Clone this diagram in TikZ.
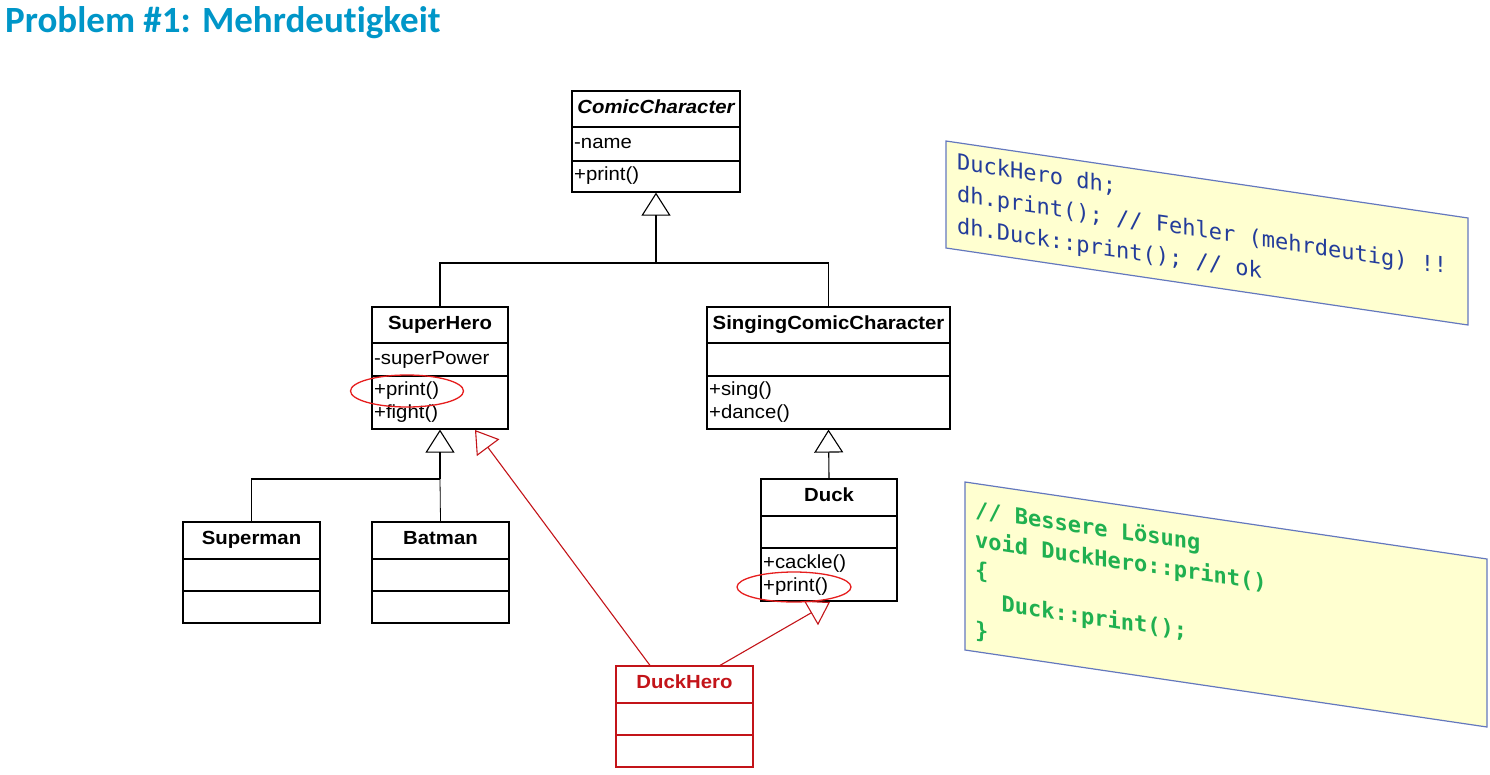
\documentclass[tikz,border=0pt]{standalone}
\usepackage{fontspec}
\setmainfont{Liberation Sans}
\newfontfamily\umlfont[FakeStretch=1.07]{Liberation Sans}
\newfontfamily\titlefont[Ligatures=NoCommon]{Carlito}
\newfontfamily\codefont{DejaVu Sans Mono}
\usetikzlibrary{arrows.meta}
\definecolor{titleblue}{RGB}{0,150,200}
\definecolor{hired}{RGB}{195,20,25}
\definecolor{ellred}{RGB}{230,30,30}
\definecolor{codefill}{RGB}{255,255,208}
\definecolor{codeborder}{RGB}{100,120,190}
\definecolor{codeblue}{RGB}{35,60,155}
\definecolor{codegreen}{RGB}{32,176,80}
\begin{document}
\begin{tikzpicture}[x=1pt,y=-1pt,
  cls/.style={draw, line width=1.2pt, inner sep=0pt, fill=white},
  div/.style={line width=1.2pt},
  lbl/.style={inner sep=0pt, font=\umlfont\fontsize{19}{22}\selectfont, text height=13pt, text depth=4pt},
  hdr/.style={lbl, font=\umlfont\bfseries\fontsize{19}{22}\selectfont},
  conn/.style={line width=1.1pt},
  inh/.style={conn, -{Triangle[open, length=23pt, width=29pt]}},
  rinh/.style={conn, draw=hired, -{Triangle[open, length=22pt, width=28pt]}},
  redring/.style={draw=ellred, line width=1.3pt},
  code1txt/.style={inner sep=0pt, text=codeblue, font=\codefont\fontsize{22}{26}\selectfont, transform shape},
  code2txt/.style={inner sep=0pt, text=codegreen, font=\codefont\bfseries\fontsize{22}{26}\selectfont, transform shape},
  codebox/.style={draw=codeborder, fill=codefill, line width=1.2pt}
]
\useasboundingbox (0,0) rectangle (1490,774);

% title
\node[anchor=base west, inner sep=0pt, text=titleblue, font=\titlefont\bfseries\fontsize{37}{42}\selectfont] (title) at (5,32) {Problem \#1: Mehrdeutigkeit};

% ComicCharacter
\node[cls, minimum width=168pt, minimum height=101pt] (cc) at (656,141.5) {};
\draw[div] (cc.west |- 0,127) -- (cc.east |- 0,127);
\draw[div] (cc.west |- 0,161) -- (cc.east |- 0,161);
\node[hdr, font=\umlfont\bfseries\itshape\fontsize{19}{22}\selectfont] (cc-h) at (656,109) {ComicCharacter};
\node[lbl, anchor=west] (cc-a) at (574,144) {-name};
\node[lbl, anchor=west] (cc-m) at (574,176) {+print()};

% SuperHero
\node[cls, minimum width=136pt, minimum height=122pt] (sh) at (440,368) {};
\draw[div] (sh.west |- 0,343) -- (sh.east |- 0,343);
\draw[div] (sh.west |- 0,376) -- (sh.east |- 0,376);
\node[hdr] (sh-h) at (440,325) {SuperHero};
\node[lbl, anchor=west] (sh-a) at (374,360) {-superPower};
\node[lbl, anchor=west] (sh-m1) at (374,391) {+print()};
\node[lbl, anchor=west] (sh-m2) at (374,414) {+fight()};

% SingingComicCharacter
\node[cls, minimum width=243pt, minimum height=122pt] (scc) at (828.5,368) {};
\draw[div] (scc.west |- 0,343) -- (scc.east |- 0,343);
\draw[div] (scc.west |- 0,376) -- (scc.east |- 0,376);
\node[hdr] (scc-h) at (828.5,325) {SingingComicCharacter};
\node[lbl, anchor=west] (scc-m1) at (709,391) {+sing()};
\node[lbl, anchor=west] (scc-m2) at (709,414) {+dance()};

% Duck
\node[cls, minimum width=136pt, minimum height=122pt] (duck) at (829,540) {};
\draw[div] (duck.west |- 0,516) -- (duck.east |- 0,516);
\draw[div] (duck.west |- 0,548) -- (duck.east |- 0,548);
\node[hdr] (duck-h) at (829,497) {Duck};
\node[lbl, anchor=west] (duck-m1) at (763,564) {+cackle()};
\node[lbl, anchor=west] (duck-m2) at (763,587) {+print()};

% Superman
\node[cls, minimum width=137pt, minimum height=101pt] (sm) at (251.5,572.5) {};
\draw[div] (sm.west |- 0,559) -- (sm.east |- 0,559);
\draw[div] (sm.west |- 0,591) -- (sm.east |- 0,591);
\node[hdr] (sm-h) at (251.5,540) {Superman};

% Batman
\node[cls, minimum width=137pt, minimum height=101pt] (bm) at (440.5,572.5) {};
\draw[div] (bm.west |- 0,559) -- (bm.east |- 0,559);
\draw[div] (bm.west |- 0,591) -- (bm.east |- 0,591);
\node[hdr] (bm-h) at (440.5,540) {Batman};

% DuckHero
\node[cls, draw=hired, minimum width=137pt, minimum height=101pt] (dh) at (684.5,716.5) {};
\draw[div, draw=hired] (dh.west |- 0,703) -- (dh.east |- 0,703);
\draw[div, draw=hired] (dh.west |- 0,735) -- (dh.east |- 0,735);
\node[hdr, text=hired] (dh-h) at (684.5,684) {DuckHero};

% inheritance connectors
\coordinate (j1) at (656,263);
\draw[conn] (sh.north) |- (j1);
\draw[conn] (scc.north) |- (j1);
\draw[inh] (j1) -- (cc.south);

\coordinate (j2) at (440,479);
\draw[conn] (sm.north) |- (j2);
\draw[line width=0.8pt] (bm.north) -- (j2);
\draw[inh] (j2) -- (sh.south);

\draw[inh] (duck.north) -- (scc.south);

\coordinate (t1) at (475,430);
\coordinate (t2) at (830,602);
\draw[rinh] ([xshift=-34.5pt]dh.north) -- (t1);
\draw[rinh] ([xshift=35.5pt]dh.north) -- (t2);

% red ellipses
\draw[redring] (sh-m1.west) ++(33,0) ellipse [x radius=56.5, y radius=16];
\draw[redring] (duck-m2.west) ++(31,0) ellipse [x radius=57, y radius=15];

% code box 1
\begin{scope}[shift={(946,141)}, yslant=-0.1475]
  \path[codebox] (0,0) rectangle (522,107);
  \node[code1txt, anchor=base west] (c1l1) at (11,27) {DuckHero dh;};
  \node[code1txt, anchor=base west] (c1l2) at (11,59) {dh.print(); // Fehler (mehrdeutig) !!};
  \node[code1txt, anchor=base west] (c1l3) at (11,91) {dh.Duck::print(); // ok};
\end{scope}

% code box 2
\begin{scope}[shift={(965,482)}, yslant=-0.1475]
  \path[codebox] (0,0) rectangle (522,168);
  \node[code2txt, anchor=base west] (c2l1) at (10,34) {// Bessere Lösung};
  \node[code2txt, anchor=base west] (c2l2) at (10,64) {void DuckHero::print()};
  \node[code2txt, anchor=base west] (c2l3) at (10,94) {\{};
  \node[code2txt, anchor=base west] (c2l4) at (36.5,124) {Duck::print();};
  \node[code2txt, anchor=base west] (c2l5) at (10,154) {\}};
\end{scope}
\end{tikzpicture}
\end{document}
